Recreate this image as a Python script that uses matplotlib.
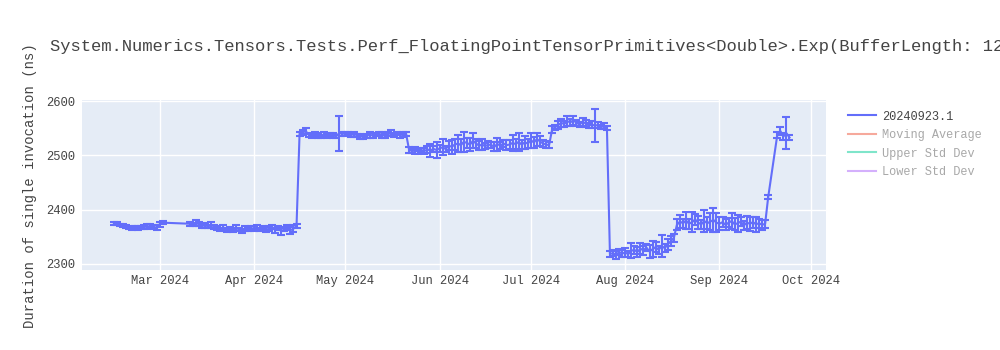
import matplotlib.pyplot as plt
import matplotlib.dates as mdates
from matplotlib.lines import Line2D
import pandas as pd

plt.rcParams['font.family'] = ['Liberation Mono', 'DejaVu Sans Mono']

title = "System.Numerics.Tensors.Tests.Perf_FloatingPointTensorPrimitives<Double>.Exp(BufferLength: 128)"
ylabel = "Duration of single invocation (ns)"
series_name = "20240923.1"
legend_only = ["Moving Average", "Upper Std Dev", "Lower Std Dev"]
legend_only_colors = ["#EF553B", "#00cc96", "#ab63fa"]

# runs of consecutive days: start date, mean values, std dev
feb_start = "2024-02-15"
feb_vals = [2375, 2374, 2372, 2371, 2369, 2366, 2366, 2367, 2366, 2367, 2368, 2369, 2370, 2368, 2367, 2373, 2376]
feb_err = [3, 3, 2, 3, 2, 2, 3, 2, 3, 2, 3, 4, 3, 3, 4, 5, 3]

mar_start = "2024-03-11"
mar_vals = [2374, 2372, 2375, 2373, 2370, 2371, 2369, 2372, 2368,
            2366, 2364, 2367, 2363, 2365, 2362, 2366, 2364, 2361, 2365, 2363, 2366,
            2365, 2367, 2364, 2366, 2363, 2365, 2368, 2362, 2366, 2360, 2364, 2367, 2362, 2365, 2370]
mar_err = [4, 3, 5, 4, 3, 4, 3, 5, 4,
           4, 3, 5, 4, 3, 4, 5, 3, 4, 5, 3, 4,
           4, 5, 3, 4, 5, 4, 3, 5, 4, 6, 4, 5, 6, 7, 4]

apr_start = "2024-04-16"
apr_vals = [2540, 2542, 2545, 2538, 2536, 2540, 2537, 2535, 2539, 2536, 2538, 2537, 2535, 2541, 2540,
            2540, 2541, 2538, 2539, 2537, 2535, 2534, 2536, 2538, 2537, 2539, 2540, 2538, 2536, 2539,
            2541, 2538, 2540, 2537, 2539, 2540]
apr_err = [4, 5, 6, 4, 3, 4, 5, 3, 4, 3, 4, 5, 3, 32, 4,
           4, 3, 4, 5, 3, 4, 3, 4, 5, 4, 3, 4, 5, 3, 4,
           5, 4, 3, 4, 5, 4]

may_start = "2024-05-22"
may_vals = [2510, 2508, 2509, 2507, 2510, 2508, 2511, 2509, 2512, 2510,
            2513, 2515, 2512, 2518, 2516, 2520, 2522, 2519, 2525, 2523, 2520, 2527, 2522, 2518, 2520,
            2517, 2520, 2519, 2516, 2521, 2518, 2522, 2519, 2520, 2523, 2521, 2525, 2520, 2524, 2522,
            2528, 2524, 2530, 2526, 2522, 2520, 2519]
may_err = [5, 4, 6, 5, 4, 5, 6, 12, 5, 14,
           6, 15, 5, 8, 13, 10, 15, 12, 18, 10, 12, 14, 9, 8, 10,
           6, 7, 5, 8, 12, 6, 7, 9, 8, 15, 10, 16, 9, 12, 8,
           14, 10, 12, 9, 7, 6, 5]

jul_start = "2024-07-08"
jul_vals = [2548, 2552, 2556, 2560, 2558, 2563, 2561, 2565, 2560, 2557,
            2562, 2559, 2555, 2557, 2555, 2556, 2552, 2554, 2551]
jul_err = [6, 5, 7, 8, 6, 9, 7, 8, 6, 5, 7, 6, 5, 6, 30, 5, 4, 5, 4]

aug_start = "2024-07-27"
aug_vals = [2318, 2320, 2316, 2322, 2319,
            2321, 2318, 2324, 2326, 2322, 2328, 2325, 2330, 2323, 2327, 2331, 2326, 2333, 2329, 2336, 2342, 2348]
aug_err = [5, 6, 7, 5, 6,
           8, 6, 14, 7, 9, 10, 8, 6, 12, 15, 9, 7, 20, 8, 10, 9, 7]

late_aug_start = "2024-08-18"
late_aug_vals = [2372, 2378, 2375, 2380, 2374, 2377, 2382, 2376, 2373, 2379, 2375, 2378, 2381, 2376,
                 2374, 2377, 2372, 2376, 2379, 2373, 2375, 2378, 2371, 2376, 2374, 2377, 2373, 2375, 2372, 2374]
late_aug_err = [10, 12, 8, 15, 9, 18, 10, 12, 8, 20, 11, 15, 22, 18,
                12, 9, 10, 8, 14, 11, 16, 9, 8, 12, 13, 10, 14, 8, 9, 7]

sep_jump_start = "2024-09-17"
sep_jump_vals = [2423]
sep_jump_err = [4]

sep_start = "2024-09-20"
sep_vals = [2538, 2545, 2535, 2541, 2533]
sep_err = [5, 8, 6, 30, 5]

runs = [
    (feb_start, feb_vals, feb_err),
    (mar_start, mar_vals, mar_err),
    (apr_start, apr_vals, apr_err),
    (may_start, may_vals, may_err),
    (jul_start, jul_vals, jul_err),
    (aug_start, aug_vals, aug_err),
    (late_aug_start, late_aug_vals, late_aug_err),
    (sep_jump_start, sep_jump_vals, sep_jump_err),
    (sep_start, sep_vals, sep_err),
]
dates, vals, errs = [], [], []
for start, v, e in runs:
    dates += list(pd.date_range(start, periods=len(v), freq="D"))
    vals += v
    errs += e

blue = "#636efa"
text_c = "#444444"

fig = plt.figure(figsize=(10, 3.5), dpi=100)
ax = fig.add_axes([0.082, 0.229, 0.744, 0.485])
ax.set_facecolor("#E5ECF6")
ax.errorbar(dates, vals, yerr=errs, color=blue, ecolor=blue, lw=1.5, elinewidth=1.5,
            capsize=3, capthick=1.5, zorder=3)

ax.set_xlim(pd.Timestamp("2024-02-04 12:00"), pd.Timestamp("2024-10-06"))
ax.set_ylim(2289, 2602)
ax.set_yticks([2300, 2400, 2500, 2600])
ax.xaxis.set_major_locator(mdates.MonthLocator(bymonth=range(3, 11)))
ax.xaxis.set_major_formatter(mdates.DateFormatter("%b %Y"))
ax.grid(True, color="white", lw=1)
ax.set_axisbelow(True)
for s in ax.spines.values():
    s.set_visible(False)
ax.tick_params(length=0, labelsize=8.7, labelcolor=text_c, pad=4)
ax.tick_params(axis="y", pad=5)

# title runs past the right edge, as in the original
fig.text(0.05, 0.868, title, fontsize=12.3, color=text_c, va="center", ha="left")
fig.text(0.03, 0.47, ylabel, fontsize=10, color=text_c, rotation=90, va="center", ha="center")

handles = [Line2D([], [], color=blue, lw=1.5)]
for c in legend_only_colors:
    handles.append(Line2D([], [], color=c, lw=1.5, alpha=0.5))
leg = fig.legend(handles, [series_name] + legend_only, loc="upper left",
                 bbox_to_anchor=(0.837, 0.715), frameon=False, fontsize=8.6,
                 handlelength=2.4, labelspacing=0.55, handletextpad=0.5)
for i, t in enumerate(leg.get_texts()):
    t.set_color(text_c if i == 0 else "#a8a8a8")

fig.savefig("out.png", dpi=100)
